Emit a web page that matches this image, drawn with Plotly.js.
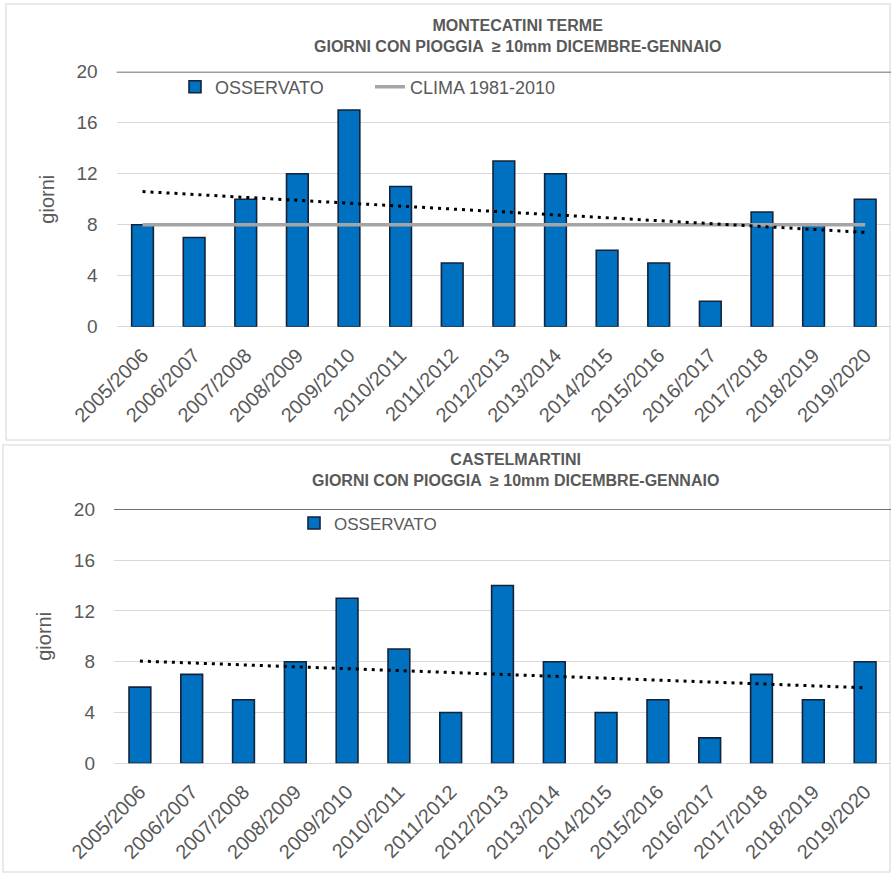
<!DOCTYPE html>
<html><head><meta charset="utf-8">
<script src="https://cdn.plot.ly/plotly-3.0.1.min.js"></script>
<style>html,body{margin:0;padding:0;background:#fff}</style>
</head><body><div id="chart" style="width:891px;height:873px"></div>
<script>
const categories = ['2005/2006','2006/2007','2007/2008','2008/2009','2009/2010','2010/2011','2011/2012','2012/2013','2013/2014','2014/2015','2015/2016','2016/2017','2017/2018','2018/2019','2019/2020'];
const montecatiniObserved = [8, 7, 10, 12, 17, 11, 5, 13, 12, 6, 5, 2, 9, 8, 10];
const montecatiniClima = [8, 8, 8, 8, 8, 8, 8, 8, 8, 8, 8, 8, 8, 8, 8];
const montecatiniTrend = [10.6, 7.4];
const castelmartiniObserved = [6, 7, 5, 8, 13, 9, 4, 14, 8, 4, 5, 2, 7, 5, 8];
const castelmartiniTrend = [8.05, 5.95];
const yTicks = [0, 4, 8, 12, 16, 20];
const titleTop = 'MONTECATINI TERME<br>GIORNI CON PIOGGIA \u00a0\u2265 10mm DICEMBRE-GENNAIO';
const titleBottom = 'CASTELMARTINI<br>GIORNI CON PIOGGIA \u00a0\u2265 10mm DICEMBRE-GENNAIO';

const W = 891, H = 873;
const px = v => v / W;
const py = v => 1 - v / H;
const FONT = 'Liberation Sans, Arial, sans-serif';
const GREY = '#595959';
const BLUE = '#0070C0';
const trendEnds = [categories[0], categories[categories.length - 1]];

const traces = [
  {type:'bar', x:categories, y:montecatiniObserved, name:'OSSERVATO', xaxis:'x', yaxis:'y', legend:'legend',
   marker:{color:BLUE, line:{color:'#13233a', width:1.6}}},
  {type:'scatter', mode:'lines', x:categories, y:montecatiniClima, name:'CLIMA 1981-2010', xaxis:'x', yaxis:'y', legend:'legend',
   line:{color:'#A5A5A5', width:3.5}},
  {type:'scatter', mode:'lines', x:trendEnds, y:montecatiniTrend, showlegend:false, xaxis:'x', yaxis:'y',
   line:{color:'#000', width:3, dash:'3px,5px'}},
  {type:'bar', x:categories, y:castelmartiniObserved, name:'OSSERVATO', xaxis:'x2', yaxis:'y2', legend:'legend2',
   marker:{color:BLUE, line:{color:'#13233a', width:1.6}}},
  {type:'scatter', mode:'lines', x:trendEnds, y:castelmartiniTrend, showlegend:false, xaxis:'x2', yaxis:'y2',
   line:{color:'#000', width:3, dash:'3px,5px'}}
];

const yax = (dom, anchor) => ({
  domain: dom, anchor: anchor, range:[0,20], tickvals:yTicks, ticktext:yTicks.map(String),
  showgrid:true, gridcolor:'#d9d9d9', gridwidth:1, zeroline:true, zerolinecolor:'#d9d9d9', zerolinewidth:1.5,
  showline:false, ticks:'', ticklabelstandoff:18,
  tickfont:{family:FONT, size:19, color:GREY},
  title:{text:'giorni', font:{family:FONT, size:20, color:GREY}, standoff:16}
});
const xax = (dom, anchor) => ({
  domain: dom, anchor: anchor, type:'category', tickangle:-45, ticks:'', showgrid:false,
  showline:false, zeroline:false, ticklabelstandoff:12,
  tickfont:{family:FONT, size:20, color:GREY}
});

const layout = {
  width:W, height:H, margin:{l:0,r:0,t:0,b:0},
  paper_bgcolor:'#fff', plot_bgcolor:'rgba(0,0,0,0)',
  showlegend:true, bargap:0.58,
  xaxis: xax([px(116.7), 1], 'y'),
  yaxis: yax([py(326.7), py(71.7)], 'x'),
  xaxis2: xax([px(114), 1], 'y2'),
  yaxis2: yax([py(763.3), py(509.3)], 'x2'),
  legend:{orientation:'h', x:px(175), xanchor:'left', y:py(87), yanchor:'middle', entrywidth:150,
          font:{family:FONT, size:18, color:GREY}, bgcolor:'rgba(0,0,0,0)'},
  legend2:{orientation:'h', x:px(294), xanchor:'left', y:py(523.5), yanchor:'middle',
          font:{family:FONT, size:17, color:GREY}, bgcolor:'rgba(0,0,0,0)'},
  annotations:[
    {text:titleTop, xref:'paper', yref:'paper', x:px(517), y:py(15), xanchor:'center', yanchor:'top',
     showarrow:false, font:{family:FONT, size:16, color:GREY, weight:'bold'}, align:'center'},
    {text:titleBottom, xref:'paper', yref:'paper', x:px(515), y:py(449), xanchor:'center', yanchor:'top',
     showarrow:false, font:{family:FONT, size:16, color:GREY, weight:'bold'}, align:'center'}
  ],
  shapes:[
    {type:'rect', xref:'paper', yref:'paper', x0:px(6), x1:px(890), y0:py(440), y1:py(4), line:{color:'#e3e3e3', width:1.5}, layer:'below'},
    {type:'rect', xref:'paper', yref:'paper', x0:px(3), x1:px(890), y0:py(872), y1:py(445), line:{color:'#e3e3e3', width:1.5}, layer:'below'},
    {type:'line', xref:'x domain', yref:'y', x0:0, x1:1, y0:20, y1:20, line:{color:'#404040', width:1.5}},
    {type:'line', xref:'x2 domain', yref:'y2', x0:0, x1:1, y0:20, y1:20, line:{color:'#404040', width:1.5}}
  ]
};

Plotly.newPlot('chart', traces, layout, {staticPlot:true, displayModeBar:false});
</script></body></html>
